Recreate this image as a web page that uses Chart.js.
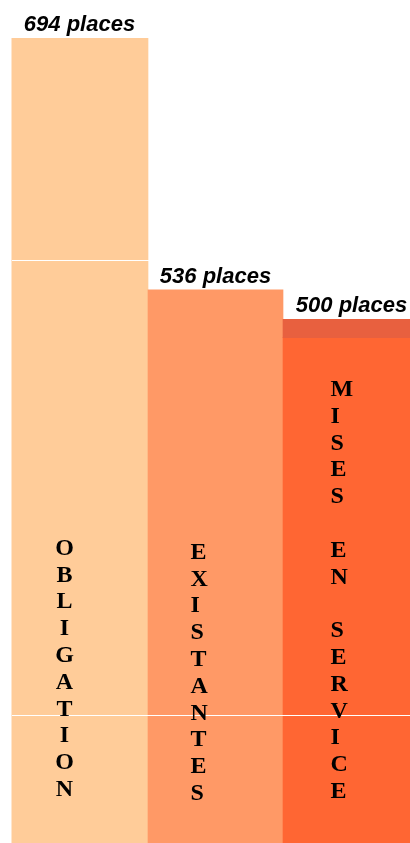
<!DOCTYPE html>
<html>
<head>
<meta charset="utf-8">
<script src="https://cdn.jsdelivr.net/npm/chart.js@4.4.1/dist/chart.umd.min.js"></script>
<style>
  html, body { margin: 0; padding: 0; background: #ffffff; overflow: hidden; }
  #wrap { position: relative; width: 420px; height: 843px; }
</style>
</head>
<body>
<div id="wrap"><canvas id="c"></canvas></div>
<script>
// ---- data ----
const categories = ['OBLIGATION', 'EXISTANTES', 'MISES EN SERVICE'];
const placeValues = [694, 536, 500];           // values printed above bars
const barHeights = [694, 536, 506];            // bar tops as drawn in the picture
const topBand = [506, 517.5];                  // darker band on top of 3rd bar
const gridValues = [269, 554.4];               // white horizontal lines
const valueSuffix = ' places';
const barColors = ['#FFCC99', '#FF9966', '#FF6633'];
const bandColor = '#E8603F';

const thickness = [137, 135, 137];
const barDatasets = categories.map((cat, i) => ({
  label: cat,
  data: categories.map((_, j) => (j === i ? barHeights[i] : null)),
  backgroundColor: barColors[i],
  borderWidth: 0,
  grouped: false,
  barThickness: thickness[i],
  order: 3 - i
}));
const bandDataset = {
  label: 'band',
  data: categories.map((_, j) => (j === 2 ? topBand : null)),
  backgroundColor: bandColor,
  borderWidth: 0,
  grouped: false,
  barThickness: thickness[2],
  order: 0
};

const labelPlugin = {
  id: 'labels',
  afterDraw(chart) {
    const ctx = chart.ctx;
    ctx.save();
    // value labels above bars
    ctx.font = 'italic bold 22px "Liberation Sans", Arial, sans-serif';
    ctx.fillStyle = '#000';
    ctx.textBaseline = 'alphabetic';
    ctx.textAlign = 'center';
    categories.forEach((cat, i) => {
      const bar = chart.getDatasetMeta(i).data[i];
      let topY = bar.y;
      if (i === 2) topY = chart.getDatasetMeta(3).data[2].y;
      ctx.fillText(placeValues[i] + valueSuffix, bar.x, topY - 7);
    });
    // vertical category letters
    ctx.font = 'bold 24px "Liberation Serif", "Times New Roman", serif';
    const pitch = 26.8;
    const lastBaseline = [796, 800, 798];
    const xOff = [-15, -25, -21];
    const align = ['center', 'left', 'left'];
    categories.forEach((cat, i) => {
      const bar = chart.getDatasetMeta(i).data[i];
      const chars = cat.split('');
      const n = chars.length;
      ctx.textAlign = align[i];
      chars.forEach((ch, k) => {
        if (ch === ' ') return;
        const y = lastBaseline[i] - (n - 1 - k) * pitch;
        ctx.fillText(ch, bar.x + xOff[i], y);
      });
    });
    ctx.restore();
  }
};

new Chart(document.getElementById('c'), {
  type: 'bar',
  data: { labels: categories, datasets: [...barDatasets, bandDataset] },
  options: {
    responsive: true,
    maintainAspectRatio: false,
    animation: false,
    layout: { padding: { left: 11.5, right: 0.5, top: 38, bottom: 0 } },
    plugins: { legend: { display: false }, tooltip: { enabled: false } },
    scales: {
      x: {
        display: false,
        offset: true,
        grid: { display: false }
      },
      y: {
        display: true,
        min: 189,
        max: 694,
        afterBuildTicks(scale) { scale.ticks = gridValues.map(v => ({ value: v })); },
        ticks: { display: false },
        border: { display: false },
        grid: { color: '#ffffff', lineWidth: 1, z: 1, drawTicks: false }
      }
    }
  },
  plugins: [labelPlugin]
});
</script>
</body>
</html>
